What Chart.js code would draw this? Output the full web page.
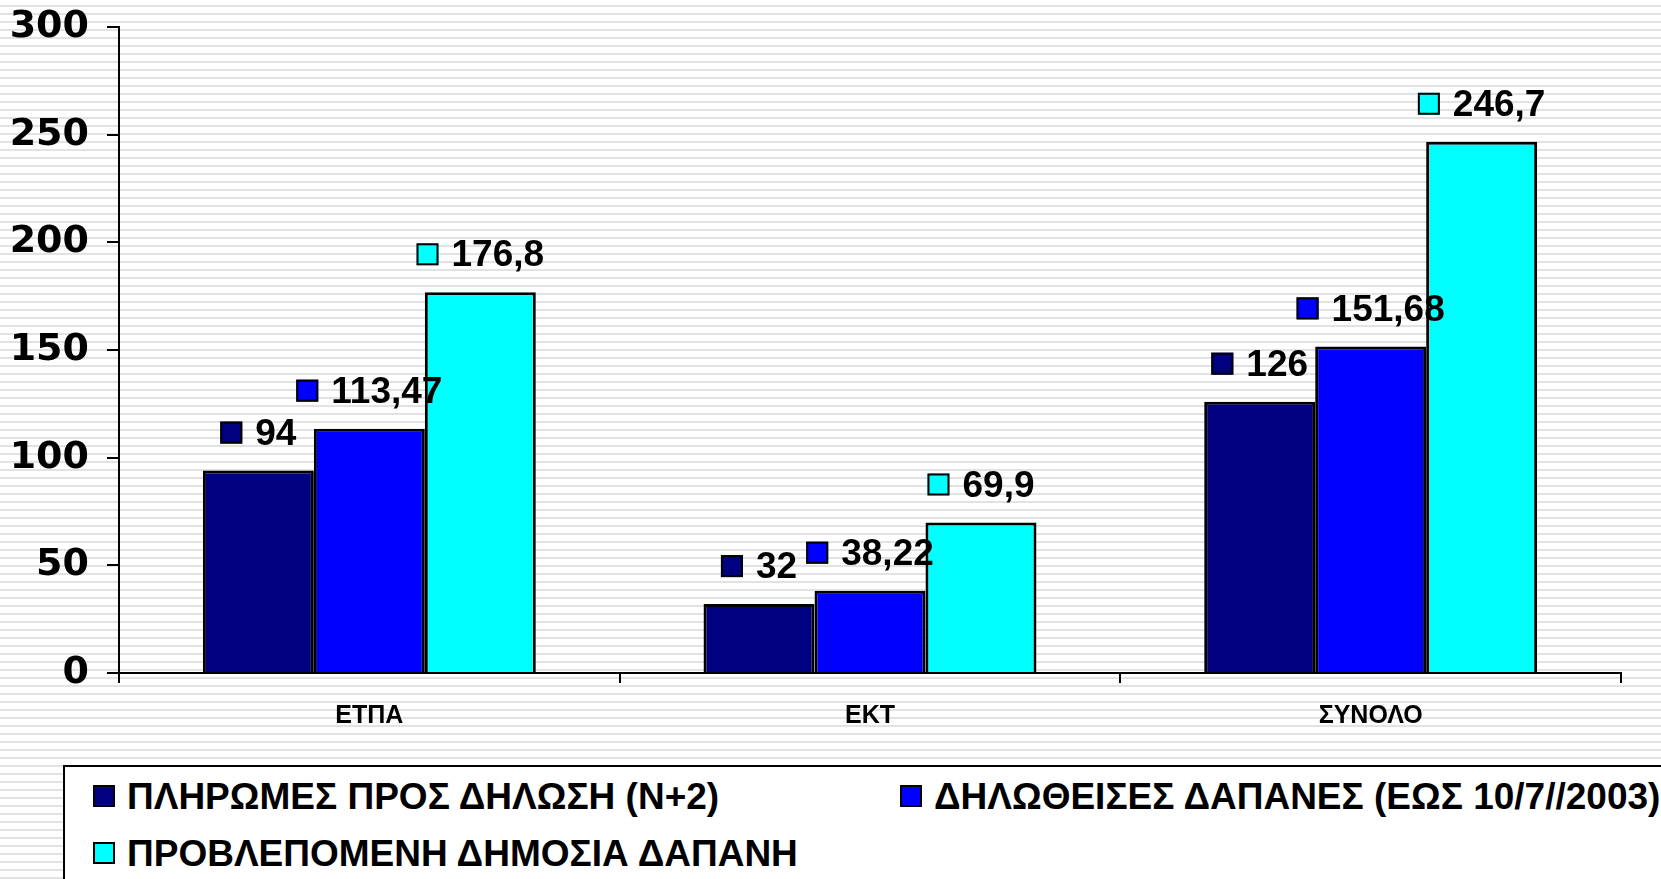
<!DOCTYPE html>
<html>
<head>
<meta charset="utf-8">
<script src="https://cdn.jsdelivr.net/npm/chart.js@4.4.0/dist/chart.umd.min.js"></script>
<style>
  html, body { margin: 0; padding: 0; }
  body {
    width: 1661px; height: 879px; overflow: hidden; position: relative;
    background: repeating-linear-gradient(to bottom, #ffffff 0px, #ffffff 5px, #e2e2e2 5px, #e2e2e2 7px, #ffffff 7px, #ffffff 8px);
  }
  #chart { position: absolute; left: 0; top: 0; }
  #legend {
    position: absolute; left: 63px; top: 765px; width: 1700px; height: 200px;
    border: 2px solid #000; background: #fff;
  }
  .item {
    position: absolute; font-family: "Liberation Sans", Arial, sans-serif; font-weight: bold;
    font-size: 37px; color: #000; white-space: nowrap; line-height: 1;
  }
  .item span.box {
    display: inline-block; width: 18px; height: 18px; border: 2px solid #000;
    vertical-align: middle; margin-right: 12px; position: relative; top: -3px;
  }
</style>
</head>
<body>
<canvas id="chart" width="1661" height="879"></canvas>
<div id="legend"></div>
<script>
const categories = ['ΕΤΠΑ', 'ΕΚΤ', 'ΣΥΝΟΛΟ'];
const seriesNames = [
  'ΠΛΗΡΩΜΕΣ ΠΡΟΣ ΔΗΛΩΣΗ (Ν+2)',
  'ΔΗΛΩΘΕΙΣΕΣ ΔΑΠΑΝΕΣ (ΕΩΣ 10/7//2003)',
  'ΠΡΟΒΛΕΠΟΜΕΝΗ ΔΗΜΟΣΙΑ ΔΑΠΑΝΗ'
];
const payments = [94, 32, 126];
const declared = [113.47, 38.22, 151.68];
const planned = [176.8, 69.9, 246.7];
const colors = ['#000080', '#0000FF', '#00FFFF'];

// legend placement (page px)
const legendPos = [[91, 778], [898, 778], [91, 835]];

const legendEl = document.getElementById('legend');
seriesNames.forEach(function (name, i) {
  const d = document.createElement('div');
  d.className = 'item';
  d.style.left = (legendPos[i][0] - 63) + 'px';
  d.style.top = (legendPos[i][1] - 767) + 'px';
  d.innerHTML = '<span class="box" style="background:' + colors[i] + '"></span>' + name;
  legendEl.appendChild(d);
});

const fmt = v => String(v).replace('.', ',');

// value labels with a small key box, drawn after each series
const valueLabels = {
  id: 'valueLabels',
  afterDatasetDraw(chart, args) {
    const ctx = chart.ctx;
    const ds = chart.data.datasets[args.index];
    ctx.save();
    ctx.font = 'bold 37px "Liberation Sans", Arial, sans-serif';
    ctx.textBaseline = 'middle';
    args.meta.data.forEach(function (bar, j) {
      const txt = fmt(ds.data[j]);
      const tw = ctx.measureText(txt).width;
      const sq = 22, gap = 13;
      const total = sq + gap + tw;
      const x0 = bar.x - total / 2;
      const cy = bar.y - 38;
      ctx.fillStyle = ds.backgroundColor;
      ctx.fillRect(x0, cy - sq / 2, sq, sq);
      ctx.lineWidth = 2;
      ctx.strokeStyle = '#000';
      ctx.strokeRect(x0 + 1, cy - sq / 2 + 1, sq - 2, sq - 2);
      ctx.fillStyle = '#000';
      ctx.fillText(txt, x0 + sq + gap, cy + 2);
    });
    ctx.restore();
  }
};

const mk = (i, data) => ({
  label: seriesNames[i],
  data: data,
  backgroundColor: colors[i],
  borderColor: '#000',
  borderWidth: 3,
  categoryPercentage: 0.665,
  barPercentage: 1
});

new Chart(document.getElementById('chart').getContext('2d'), {
  type: 'bar',
  data: {
    labels: categories,
    datasets: [mk(0, payments), mk(1, declared), mk(2, planned)]
  },
  options: {
    responsive: false,
    animation: false,
    layout: { padding: { top: 27, right: 40, bottom: 146, left: 0 } },
    plugins: { legend: { display: false }, tooltip: { enabled: false } },
    scales: {
      x: {
        grid: { display: true, drawOnChartArea: false, drawTicks: true, tickLength: 10, color: '#000', lineWidth: 2, offset: true },
        border: { display: true, color: '#000', width: 2 },
        ticks: { color: '#000', padding: 18, font: { family: '"Liberation Sans", Arial, sans-serif', weight: 'bold', size: 25 } },
        afterFit: s => { s.height = 60; }
      },
      y: {
        min: 0, max: 300,
        grid: { display: true, drawOnChartArea: false, drawTicks: true, tickLength: 12, color: '#000', lineWidth: 2 },
        border: { display: true, color: '#000', width: 2 },
        ticks: { stepSize: 50, color: '#000', padding: 18, font: { family: '"DejaVu Sans", Verdana, sans-serif', weight: 'bold', size: 38 } },
        afterFit: s => { s.width = 119; s.paddingTop = 0; s.paddingBottom = 0; }
      }
    }
  },
  plugins: [valueLabels]
});
</script>
</body>
</html>
